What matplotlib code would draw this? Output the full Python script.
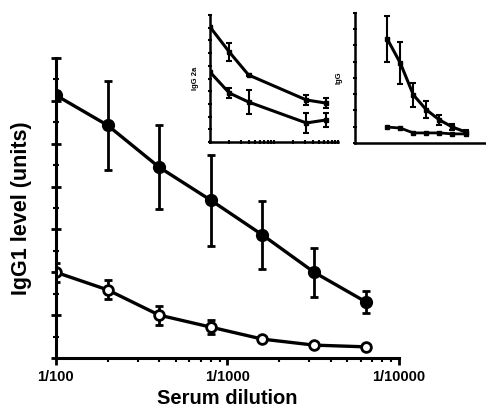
import numpy as np
import matplotlib
matplotlib.use("Agg")
import matplotlib.pyplot as plt
from matplotlib.ticker import FixedLocator, NullFormatter, MultipleLocator

plt.rcParams['font.family'] = ['Liberation Sans', 'DejaVu Sans']

# main panel: IgG1
dilution = [100, 200, 400, 800, 1600, 3200, 6400]
igg1_filled = [6.13, 5.43, 4.45, 3.68, 2.87, 2.00, 1.31]
igg1_filled_err = [0.10, 1.04, 0.98, 1.06, 0.80, 0.57, 0.26]
igg1_open = [2.00, 1.59, 1.00, 0.72, 0.44, 0.30, 0.26]
igg1_open_err = [0.22, 0.22, 0.22, 0.17, 0.05, 0.04, 0.04]
tick_vals = [100, 1000, 10000]
tick_labels = ["1/100", "1/1000", "1/10000"]

# inset 1: IgG2a
dil_2a = [100, 200, 400, 3200, 6400]
igg2a_upper = [9.06, 7.09, 5.28, 3.31, 3.07]
igg2a_upper_err = [0.1, 0.7, 0.1, 0.4, 0.4]
igg2a_lower = [5.51, 3.86, 3.15, 1.50, 1.73]
igg2a_lower_err = [0.1, 0.4, 0.95, 0.8, 0.55]

# inset 2: IgG
dil_g = [100, 200, 400, 800, 1600, 3200, 6400]
igg_upper = [3.20, 2.46, 1.48, 1.02, 0.71, 0.49, 0.34]
igg_upper_err = [0.70, 0.65, 0.38, 0.26, 0.15, 0.10, 0.05]
igg_lower = [0.49, 0.46, 0.31, 0.31, 0.31, 0.28, 0.28]

fig = plt.figure(figsize=(4.86, 4.11), dpi=100)
ax = fig.add_axes([0.115, 0.129, 0.706, 0.730])

ax.errorbar(dilution, igg1_filled, yerr=igg1_filled_err, color='black', lw=2.4,
            marker='o', ms=8.5, mfc='black', mec='black', capsize=3, elinewidth=2, capthick=2)
ax.errorbar(dilution, igg1_open, yerr=igg1_open_err, color='black', lw=2.4,
            marker='o', ms=7, mfc='white', mec='black', mew=2, capsize=3, elinewidth=2, capthick=2)

ax.set_xscale('log')
ax.set_xlim(100, 10000)
ax.set_ylim(0, 7)
ax.set_xticks(tick_vals)
ax.set_xticklabels(tick_labels, fontsize=10.5, fontweight='bold')
ax.xaxis.set_minor_formatter(NullFormatter())
ax.yaxis.set_major_locator(MultipleLocator(1))
ax.yaxis.set_minor_locator(MultipleLocator(0.5))
ax.set_yticklabels([])
ax.tick_params(axis='x', which='major', direction='out', length=5, width=2)
ax.tick_params(axis='x', which='minor', direction='out', length=3, width=1.5)
ax.tick_params(axis='y', which='major', direction='inout', length=7, width=2)
ax.tick_params(axis='y', which='minor', direction='inout', length=5, width=1.5)
for s in ['top', 'right']:
    ax.spines[s].set_visible(False)
for s in ['left', 'bottom']:
    ax.spines[s].set_linewidth(2.2)
ax.set_xlabel("Serum dilution", fontsize=14.5, fontweight='bold', labelpad=4)
ax.set_ylabel("IgG1 level (units)", fontsize=15.5, fontweight='bold', labelpad=10)

# inset IgG2a
ax1 = fig.add_axes([210 / 486, 1 - 142 / 411, 128 / 486, 127 / 411])
ax1.errorbar(dil_2a, igg2a_upper, yerr=igg2a_upper_err, color='black', lw=2.2,
             marker='s', ms=3.5, capsize=2.5, elinewidth=1.5, capthick=1.5)
ax1.errorbar(dil_2a, igg2a_lower, yerr=igg2a_lower_err, color='black', lw=2.2,
             marker='s', ms=3.5, capsize=2.5, elinewidth=1.5, capthick=1.5)
ax1.set_xscale('log')
ax1.set_xlim(100, 10000)
ax1.set_ylim(0, 10)
ax1.yaxis.set_major_locator(MultipleLocator(1))
ax1.set_yticklabels([])
ax1.xaxis.set_major_formatter(NullFormatter())
ax1.xaxis.set_minor_formatter(NullFormatter())
ax1.tick_params(which='both', direction='inout', length=3, width=1.5)
for s in ['top', 'right']:
    ax1.spines[s].set_visible(False)
for s in ['left', 'bottom']:
    ax1.spines[s].set_linewidth(1.8)
ax1.set_ylabel("IgG 2a", fontsize=5.5, fontweight='bold', labelpad=3)

# inset IgG
ax2 = fig.add_axes([355 / 486, 1 - 143 / 411, 131 / 486, 130 / 411])
ax2.errorbar(dil_g, igg_upper, yerr=igg_upper_err, color='black', lw=2.2,
             marker='s', ms=2.5, capsize=2.5, elinewidth=1.5, capthick=1.5)
ax2.plot(dil_g, igg_lower, color='black', lw=2, marker='s', ms=2.5)
ax2.set_xscale('log')
ax2.set_xlim(18, 19000)
ax2.set_ylim(0, 4)
ax2.yaxis.set_major_locator(MultipleLocator(1))
ax2.yaxis.set_minor_locator(MultipleLocator(0.5))
ax2.set_yticklabels([])
ax2.set_xticks([])
ax2.xaxis.set_minor_locator(FixedLocator([]))
ax2.tick_params(axis='y', which='both', direction='inout', length=3, width=1.5)
for s in ['top', 'right']:
    ax2.spines[s].set_visible(False)
for s in ['left', 'bottom']:
    ax2.spines[s].set_linewidth(1.8)
ax2.set_ylabel("IgG", fontsize=5.5, fontweight='bold', labelpad=4)

fig.savefig("out.png", dpi=100)
